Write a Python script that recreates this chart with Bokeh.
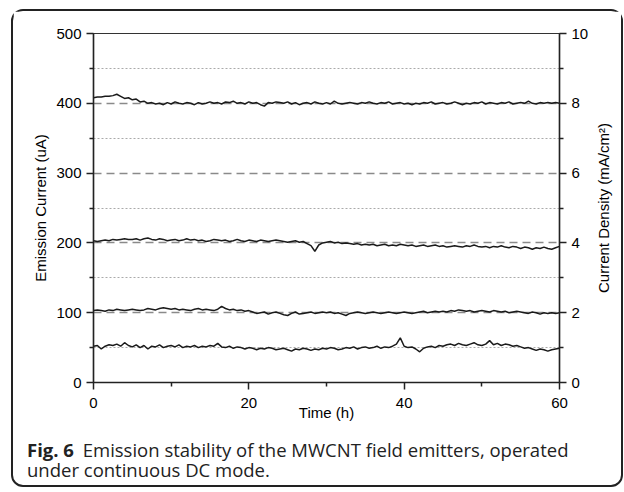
from bokeh.plotting import figure
from bokeh.models import Range1d, LinearAxis, FixedTicker, Div
from bokeh.layouts import column, row
from bokeh.embed import file_html
from bokeh.resources import INLINE

# ---- data, time step 0.5 h ----
time_h = [i * 0.5 for i in range(121)]

current_400 = [
    408, 409, 409, 410, 410, 411, 413, 410, 407, 408,
    405, 406, 402, 403, 400, 401, 399, 400, 398, 401,
    399, 402, 400, 399, 401, 400, 398, 401, 399, 400,
    402, 400, 401, 399, 402, 401, 403, 400, 401, 399,
    402, 400, 401, 398, 396, 401, 400, 402, 401, 400,
    402, 399, 401, 398, 400, 401, 399, 402, 400, 399,
    401, 399, 403, 400, 399, 400, 401, 400, 399, 401,
    400, 402, 400, 399, 401, 400, 402, 399, 400, 401,
    399, 400, 398, 400, 399, 401, 400, 402, 399, 400,
    401, 399, 400, 402, 400, 398, 400, 399, 401, 400,
    402, 399, 401, 400, 399, 401, 400, 402, 399, 400,
    401, 400, 403, 400, 399, 401, 400, 401, 400, 401,
    400,
]

current_200 = [
    203, 202, 203, 204, 203, 205, 204, 205, 206, 205,
    205, 206, 204, 206, 207, 205, 204, 206, 205, 203,
    204, 205, 203, 204, 206, 204, 205, 203, 204, 202,
    203, 205, 204, 203, 204, 202, 203, 205, 203, 202,
    204, 203, 202, 204, 203, 202, 203, 204, 203, 202,
    201, 202, 203, 201, 202, 199, 196, 188, 197, 200,
    201, 202, 200, 201, 199, 200, 199, 198, 199, 197,
    198, 197, 198, 196, 197, 198, 196, 197, 196, 198,
    197, 196, 197, 195, 196, 197, 195, 196, 197, 195,
    196, 194, 195, 196, 195, 194, 196, 195, 197, 195,
    194, 195, 193, 195, 194, 196, 194, 193, 195, 194,
    192, 194, 193, 191, 193, 192, 194, 192, 191, 193,
    195,
]

current_100 = [
    103, 104, 103, 102, 104, 103, 105, 104, 103, 104,
    105, 104, 103, 104, 106, 105, 104, 106, 107, 106,
    105, 106, 104, 105, 104, 103, 105, 106, 104, 105,
    104, 103, 105, 109, 106, 104, 105, 103, 104, 102,
    103, 101, 99, 100, 101, 98, 100, 101, 99, 97,
    96, 99, 101, 98, 99, 100, 101, 99, 100, 101,
    100, 101, 99, 100, 98, 96, 99, 100, 101, 100,
    99, 100, 101, 100, 99, 100, 101, 100, 99, 100,
    101, 100, 99, 100, 101, 102, 100, 101, 102, 101,
    102, 101, 103, 102, 104, 103, 102, 103, 101, 102,
    103, 102, 101, 103, 102, 101, 102, 100, 101, 102,
    101, 100, 99, 101, 100, 98, 100, 99, 100, 99,
    100,
]

current_50 = [
    52, 53, 48, 52, 54, 53, 55, 52, 57, 53,
    51, 54, 50, 53, 48, 52, 51, 54, 50, 52,
    53, 51, 54, 50, 52, 51, 53, 50, 52, 51,
    53, 52, 56, 51, 50, 52, 49, 51, 50, 48,
    50, 49, 47, 49, 48, 50, 49, 47, 48, 49,
    47, 45, 48, 47, 49, 48, 46, 48, 47, 49,
    48, 50, 49, 47, 48, 50, 49, 51, 48, 50,
    51, 49, 50, 52, 49, 51, 50, 52, 55, 64,
    52, 50, 51, 48, 44, 49, 51, 52, 50, 53,
    52, 54, 55, 53, 56, 54, 53, 55, 57, 54,
    53, 55, 60, 54, 56, 53, 55, 54, 52, 53,
    51, 49, 50, 48, 46, 48, 47, 45, 47, 48,
    49,
]

x_ticks = [0, 20, 40, 60]
x_minor = [10, 30, 50]
y_ticks = [0, 100, 200, 300, 400, 500]
y_minor = [50, 150, 250, 350, 450]
grid_dashed = [100, 200, 300, 400]
grid_dotted = [50, 150, 250, 350, 450]
cd_ticks = [0, 2, 4, 6, 8, 10]
cd_minor = [1, 3, 5, 7, 9]

caption_bold = "Fig. 6"
caption_line1 = "Emission stability of the MWCNT field emitters, operated"
caption_line2 = "under continuous DC mode."
right_label = "Current Density (mA/cm²)"

TOTAL_W = 608
W2 = 30                 # narrow strip that carries the right-hand axis title
W, H = TOTAL_W - W2, 420
CAP_H = 54
B_TOP, B_BOTTOM = 22, 49

p = figure(width=W, height=H, output_backend="svg", toolbar_location=None,
           x_range=Range1d(0, 60), y_range=Range1d(0, 500),
           min_border_left=80, min_border_right=29,
           min_border_top=B_TOP, min_border_bottom=B_BOTTOM)
p.extra_y_ranges = {"cd": Range1d(0, 10)}

p.background_fill_color = "white"
p.border_fill_color = "white"
p.outline_line_color = "#333333"
p.outline_line_width = 1.2

tick_font = "Liberation Sans"


def style_axis(ax):
    ax.major_label_text_font = tick_font
    ax.major_label_text_font_size = "15px"
    ax.major_label_text_color = "#000000"
    ax.axis_label_text_font = tick_font
    ax.axis_label_text_font_size = "15px"
    ax.axis_label_text_font_style = "normal"
    ax.axis_label_text_color = "#000000"
    ax.axis_line_color = "#222222"
    ax.axis_line_width = 1.5
    ax.major_tick_line_color = "#222222"
    ax.minor_tick_line_color = "#222222"
    ax.major_tick_line_width = 1.5
    ax.minor_tick_line_width = 1.5
    ax.major_tick_out = 7
    ax.major_tick_in = 0
    ax.minor_tick_out = 4
    ax.minor_tick_in = 0


style_axis(p.xaxis[0])
style_axis(p.yaxis[0])
p.xaxis[0].ticker = FixedTicker(ticks=x_ticks, minor_ticks=x_minor)
p.yaxis[0].ticker = FixedTicker(ticks=y_ticks, minor_ticks=y_minor)
p.xaxis[0].axis_label = "Time (h)"
p.xaxis[0].major_label_standoff = 8
p.xaxis[0].axis_label_standoff = -7
p.yaxis[0].axis_label = "Emission Current (uA)"
p.yaxis[0].axis_label_standoff = 4

rax = LinearAxis(y_range_name="cd",
                 ticker=FixedTicker(ticks=cd_ticks, minor_ticks=cd_minor))
style_axis(rax)
p.add_layout(rax, "right")

p.xgrid.visible = False
p.ygrid.ticker = FixedTicker(ticks=grid_dashed, minor_ticks=grid_dotted)
p.ygrid.grid_line_color = "#8a8a8a"
p.ygrid.grid_line_width = 1.5
p.ygrid.grid_line_dash = "8 5"
p.ygrid.minor_grid_line_color = "#aaaaaa"
p.ygrid.minor_grid_line_width = 1
p.ygrid.minor_grid_line_dash = "2 2"

for series in (current_400, current_200, current_100, current_50):
    p.line(time_h, series, line_color="#1a1a1a", line_width=1.5)

# strip with the right-hand axis title, reading bottom-to-top like the left one
p2 = figure(width=W2, height=H, output_backend="svg", toolbar_location=None,
            x_range=Range1d(0, 1), y_range=Range1d(0, 10),
            min_border_left=20, min_border_right=0,
            min_border_top=B_TOP, min_border_bottom=B_BOTTOM)
p2.outline_line_color = None
p2.background_fill_color = "white"
p2.border_fill_color = "white"
p2.xaxis.visible = False
p2.xgrid.visible = False
p2.ygrid.visible = False
ax2 = p2.yaxis[0]
ax2.ticker = FixedTicker(ticks=[])
ax2.axis_line_color = None
ax2.major_tick_line_color = None
ax2.minor_tick_line_color = None
ax2.axis_label = right_label
ax2.axis_label_text_font = tick_font
ax2.axis_label_text_font_size = "15px"
ax2.axis_label_text_font_style = "normal"
ax2.axis_label_text_color = "#000000"
ax2.axis_label_standoff = 0

line_css = ("height:20px; line-height:20px; white-space:nowrap; "
            "font-family:'Open Sans', sans-serif; font-size:18.5px; color:#222222;")
caption_html = (
    f'<div style="padding-left:14px; padding-top:9px;">'
    f'<div style="{line_css}"><b style="margin-right:4px">{caption_bold}</b> {caption_line1}</div>'
    f'<div style="{line_css}">{caption_line2}</div>'
    f'</div>'
)
div = Div(text=caption_html, width=TOTAL_W, height=CAP_H, margin=0)

layout = column(row(p, p2, spacing=0), div, spacing=0,
                styles={"border": "2px solid #222222", "border-radius": "12px",
                        "margin-left": "11px", "margin-top": "9px",
                        "background-color": "white"})

open("out.html", "w").write(file_html(layout, INLINE))
